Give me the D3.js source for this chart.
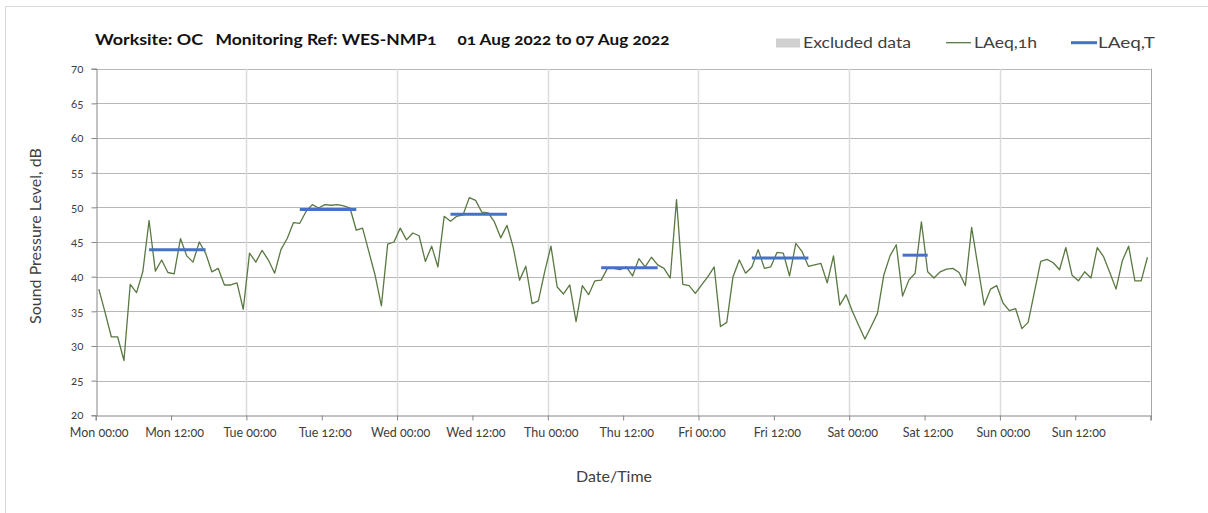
<!DOCTYPE html>
<html>
<head>
<meta charset="utf-8">
<script src="https://cdn.jsdelivr.net/npm/d3@7"></script>
<style>
  body { margin: 0; background: #fff; }
  text { font-family: Lato, "Open Sans", sans-serif; font-variant-numeric: oldstyle-nums; }
</style>
</head>
<body>
<svg id="chart" width="1208" height="513"></svg>
<script>
// Hourly LAeq,1h levels (dB), one array per day, hour 00 .. 23
const monday    = [38.2, 34.8, 31.3, 31.3, 27.9, 38.9, 37.7, 40.7, 48.1, 40.8, 42.4, 40.6, 40.4, 45.5, 43.0, 42.1, 45.0, 43.4, 40.7, 41.2, 38.8, 38.8, 39.1, 35.3];
const tuesday   = [43.4, 42.1, 43.8, 42.4, 40.5, 43.9, 45.5, 47.8, 47.7, 49.4, 50.4, 49.9, 50.4, 50.3, 50.4, 50.2, 49.9, 46.7, 47.0, 43.6, 40.2, 35.8, 44.7, 45.0];
const wednesday = [47.0, 45.3, 46.3, 45.9, 42.2, 44.4, 41.4, 48.7, 48.0, 48.7, 48.9, 51.4, 51.0, 49.3, 49.2, 47.9, 45.6, 47.4, 44.2, 39.5, 41.5, 36.1, 36.5, 40.7];
const thursday  = [44.4, 38.5, 37.5, 38.8, 33.5, 38.7, 37.4, 39.4, 39.5, 41.2, 41.2, 41.0, 41.4, 40.1, 42.6, 41.4, 42.8, 41.7, 41.2, 39.8, 51.1, 38.9, 38.7, 37.6];
const friday    = [38.8, 40.0, 41.4, 32.8, 33.4, 40.0, 42.4, 40.5, 41.4, 43.9, 41.2, 41.4, 43.5, 43.4, 40.1, 44.8, 43.6, 41.5, 41.7, 41.9, 39.1, 43.0, 35.9, 37.4];
const saturday  = [35.0, 33.0, 31.0, 32.8, 34.7, 40.2, 43.0, 44.6, 37.2, 39.5, 40.5, 47.9, 40.7, 39.8, 40.7, 41.1, 41.2, 40.6, 38.7, 47.1, 41.5, 35.9, 38.2, 38.7];
const sunday    = [36.2, 35.1, 35.4, 32.5, 33.4, 37.8, 42.2, 42.5, 42.0, 41.0, 44.2, 40.2, 39.4, 40.7, 39.8, 44.2, 42.9, 40.6, 38.2, 42.3, 44.4, 39.4, 39.4, 42.8];

// Daytime LAeq,T periods: start hour, end hour (hours from Mon 00:00), level (dB)
const periodStart = [8, 32, 56, 80, 104, 128];
const periodEnd   = [18, 42, 66, 90, 114, 133];
const periodLevel = [43.9, 49.7, 49.0, 41.3, 42.7, 43.1];

// Axis labels
const dayNames  = ["Mon", "Tue", "Wed", "Thu", "Fri", "Sat", "Sun"];
const tickTimes = ["00:00", "12:00"];
const yTicks    = [20, 25, 30, 35, 40, 45, 50, 55, 60, 65, 70];

const hourly = [monday, tuesday, wednesday, thursday, friday, saturday, sunday]
  .flat()
  .map((v, i) => ({ h: i + 0.5, v }));

const svg = d3.select("#chart");

const x = d3.scaleLinear().domain([0, 168]).range([95.7, 1150.6]);
const y = d3.scaleLinear().domain([20, 70]).range([415.3, 68.7]);

// Outer chart frame
svg.append("path")
  .attr("d", "M5.5,520 V6.5 H1220")
  .attr("fill", "none")
  .attr("stroke", "#d9d9d9")
  .attr("stroke-width", 1);

// Horizontal gridlines
svg.append("g")
  .selectAll("line")
  .data(yTicks.filter(t => t > 20))
  .join("line")
  .attr("x1", x(0)).attr("x2", x(168))
  .attr("y1", d => Math.round(y(d)) + 0.5)
  .attr("y2", d => Math.round(y(d)) + 0.5)
  .attr("stroke", "#b7b7b7")
  .attr("stroke-width", 1);

// Vertical day gridlines
svg.append("g")
  .selectAll("line")
  .data(d3.range(24, 168, 24))
  .join("line")
  .attr("x1", d => Math.round(x(d)) + 0.5)
  .attr("x2", d => Math.round(x(d)) + 0.5)
  .attr("y1", y(70)).attr("y2", y(20))
  .attr("stroke", "#dcdcdc")
  .attr("stroke-width", 1.5);

// Right plot border
svg.append("line")
  .attr("x1", Math.round(x(168)) + 0.5).attr("x2", Math.round(x(168)) + 0.5)
  .attr("y1", y(70)).attr("y2", y(20) + 4)
  .attr("stroke", "#a6a6a6");

// Y axis
const yAxis = d3.axisLeft(y).tickValues(yTicks).tickSize(5).tickPadding(8).tickFormat(d3.format("d"));
const gy = svg.append("g")
  .attr("transform", `translate(${Math.round(x(0)) + 0.5},0)`)
  .call(yAxis);
gy.select(".domain").attr("stroke", "#868686");
gy.selectAll(".tick line").attr("stroke", "#868686");
gy.selectAll(".tick text")
  .attr("font-size", 11.5)
  .attr("fill", "#404040");

// X axis: ticks every 12 hours
const xTickVals = d3.range(0, 168, 12);
const xAxis = d3.axisBottom(x)
  .tickValues(xTickVals.concat([168]))
  .tickSize(5)
  .tickPadding(8)
  .tickFormat(d => d >= 168 ? "" : `${dayNames[Math.floor(d / 24)]} ${tickTimes[(d % 24) / 12]}`);
const gx = svg.append("g")
  .attr("transform", `translate(0,${Math.round(y(20)) + 0.5})`)
  .call(xAxis);
gx.select(".domain").attr("stroke", "#868686");
gx.selectAll(".tick line").attr("stroke", "#868686");
gx.selectAll(".tick text")
  .attr("font-size", 12.5)
  .attr("fill", "#404040")
  .attr("dx", 3);

// LAeq,1h series
svg.append("path")
  .datum(hourly)
  .attr("fill", "none")
  .attr("stroke", "#5a7842")
  .attr("stroke-width", 1.3)
  .attr("stroke-linejoin", "round")
  .attr("d", d3.line().x(d => x(d.h)).y(d => y(d.v)));

// LAeq,T daytime periods
svg.append("g")
  .selectAll("line")
  .data(periodLevel.map((v, i) => ({ s: periodStart[i], e: periodEnd[i], v })))
  .join("line")
  .attr("x1", d => x(d.s + 0.5))
  .attr("x2", d => x(d.e - 0.5))
  .attr("y1", d => y(d.v))
  .attr("y2", d => y(d.v))
  .attr("stroke", "#4472c4")
  .attr("stroke-width", 3);

// Title
const title = svg.append("g").attr("font-weight", "bold").attr("font-size", 15).attr("fill", "#111");
title.append("text").attr("x", 95).attr("y", 45).attr("textLength", 108).attr("lengthAdjust", "spacingAndGlyphs").text("Worksite: OC");
title.append("text").attr("x", 215.5).attr("y", 45).attr("textLength", 221).attr("lengthAdjust", "spacingAndGlyphs").text("Monitoring Ref: WES-NMP1");
title.append("text").attr("x", 457.5).attr("y", 45).attr("textLength", 212).attr("lengthAdjust", "spacingAndGlyphs").text("01 Aug 2022 to 07 Aug 2022");

// Legend
const legend = svg.append("g").attr("font-size", 15.5).attr("fill", "#404040");
legend.append("rect").attr("x", 776).attr("y", 38.5).attr("width", 24).attr("height", 9).attr("fill", "#d0d0d0");
legend.append("text").attr("x", 803).attr("y", 48).attr("textLength", 108).attr("lengthAdjust", "spacingAndGlyphs").text("Excluded data");
legend.append("line").attr("x1", 946).attr("x2", 971).attr("y1", 42.7).attr("y2", 42.7).attr("stroke", "#5a7842").attr("stroke-width", 1.3);
legend.append("text").attr("x", 974).attr("y", 48).attr("textLength", 63).attr("lengthAdjust", "spacingAndGlyphs").text("LAeq,1h");
legend.append("line").attr("x1", 1071).attr("x2", 1097).attr("y1", 42.7).attr("y2", 42.7).attr("stroke", "#4472c4").attr("stroke-width", 3);
legend.append("text").attr("x", 1098).attr("y", 48).attr("textLength", 57).attr("lengthAdjust", "spacingAndGlyphs").text("LAeq,T");

// Axis titles
svg.append("text")
  .attr("transform", "translate(41,236) rotate(-90)")
  .attr("text-anchor", "middle")
  .attr("font-size", 16)
  .attr("fill", "#404040")
  .text("Sound Pressure Level, dB");

svg.append("text")
  .attr("x", 614).attr("y", 482)
  .attr("text-anchor", "middle")
  .attr("font-size", 16)
  .attr("fill", "#404040")
  .text("Date/Time");
</script>
</body>
</html>
